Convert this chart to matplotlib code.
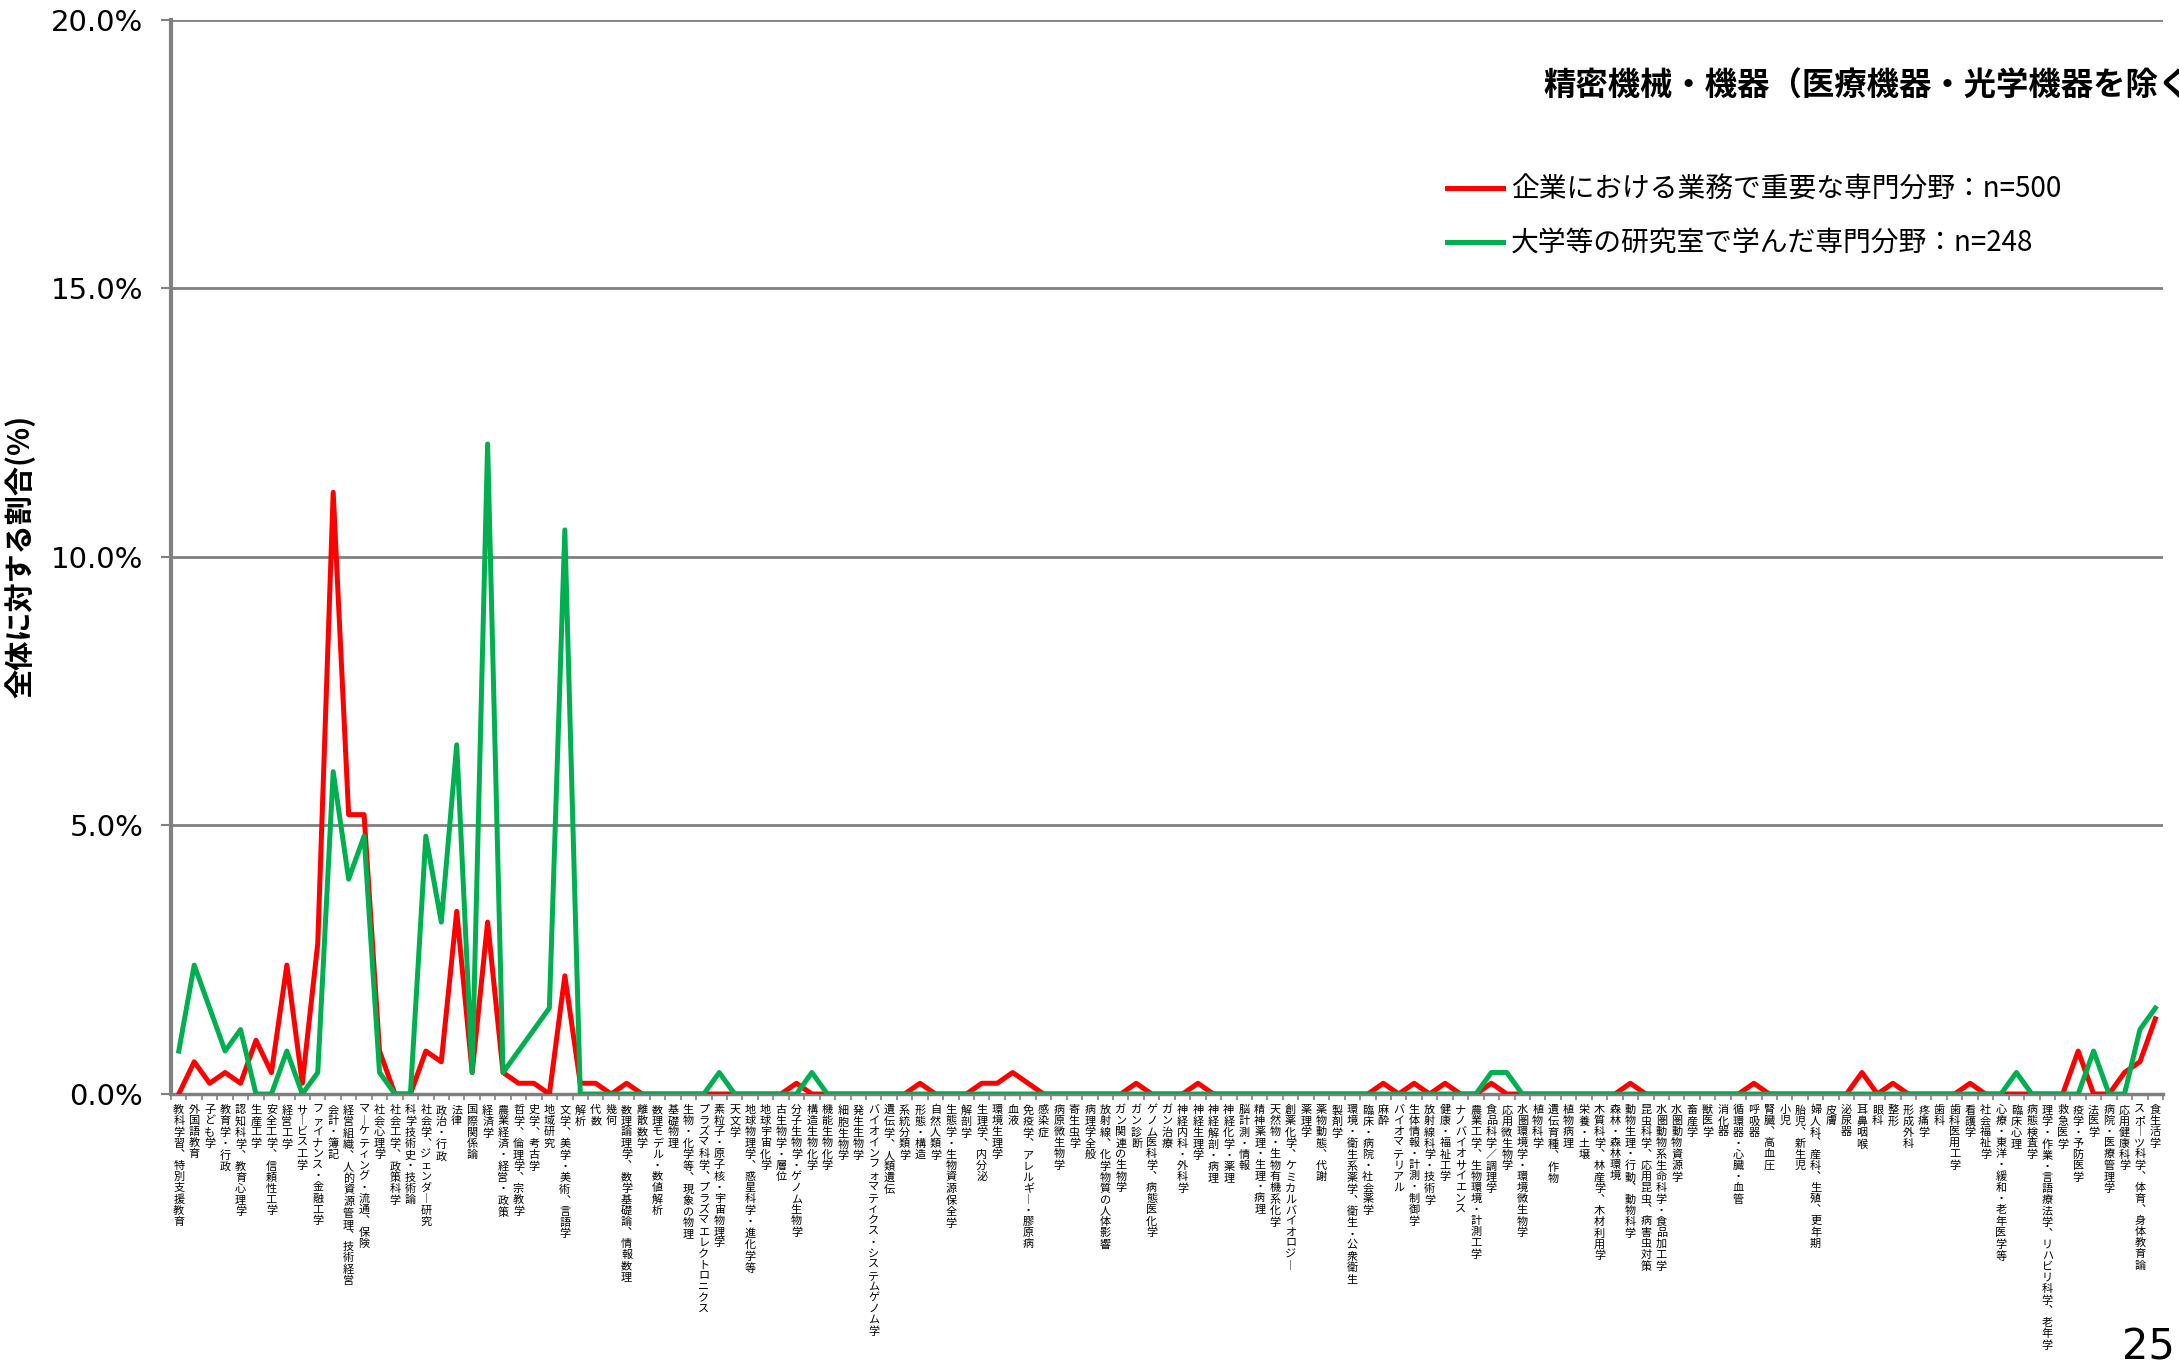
import matplotlib
matplotlib.use('Agg')
import matplotlib.pyplot as plt
import numpy as np

plt.rcParams['font.family'] = ['Noto Sans CJK JP', 'DejaVu Sans']

# categories (129 fields)
categories = [
    "教科学習、特別支援教育", "外国語教育", "子ども学", "教育学・行政", "認知科学、教育心理学",
    "生産工学", "安全工学、信頼性工学", "経営工学", "サービス工学", "ファイナンス・金融工学",
    "会計・簿記", "経営組織、人的資源管理、技術経営", "マーケティング・流通、保険", "社会心理学", "社会工学、政策科学",
    "科学技術史・技術論", "社会学、ジェンダー研究", "政治・行政", "法律", "国際関係論",
    "経済学", "農業経済・経営・政策", "哲学、倫理学、宗教学", "史学、考古学", "地域研究",
    "文学、美学・美術、言語学", "解析", "代数", "幾何", "数理論理学、数学基礎論、情報数理",
    "離散数学", "数理モデル・数値解析", "基礎物理", "生物・化学等、現象の物理", "プラズマ科学、プラズマエレクトロニクス",
    "素粒子・原子核・宇宙物理学", "天文学", "地球物理学、惑星科学・進化学等", "地球宇宙化学", "古生物学・層位",
    "分子生物学・ゲノム生物学", "構造生物化学", "機能生物化学", "細胞生物学", "発生生物学",
    "バイオインフォマティクス・システムゲノム学", "遺伝学、人類遺伝", "系統分類学", "形態・構造", "自然人類学",
    "生態学・生物資源保全学", "解剖学", "生理学、内分泌", "環境生理学", "血液",
    "免疫学、アレルギー・膠原病", "感染症", "病原微生物学", "寄生虫学", "病理学全般",
    "放射線、化学物質の人体影響", "ガン関連の生物学", "ガン診断", "ゲノム医科学、病態医化学", "ガン治療",
    "神経内科・外科学", "神経生理学", "神経解剖・病理", "神経化学・薬理", "脳計測・情報",
    "精神薬理・生理・病理", "天然物・生物有機系化学", "創薬化学、ケミカルバイオロジー", "薬理学", "薬物動態、代謝",
    "製剤学", "環境・衛生系薬学、衛生・公衆衛生", "臨床・病院・社会薬学", "麻酔", "バイオマテリアル",
    "生体情報・計測・制御学", "放射線科学・技術学", "健康・福祉工学", "ナノバイオサイエンス", "農業工学、生物環境・計測工学",
    "食品科学／調理学", "応用微生物学", "水圏環境学・環境微生物学", "植物科学", "遺伝育種、作物",
    "植物病理", "栄養・土壌", "木質科学、林産学、木材利用学", "森林・森林環境", "動物生理・行動、動物科学",
    "昆虫科学、応用昆虫、病害虫対策", "水圏動物系生命科学・食品加工学", "水圏動物資源学", "畜産学", "獣医学",
    "消化器", "循環器・心臓・血管", "呼吸器", "腎臓、高血圧", "小児",
    "胎児、新生児", "婦人科、産科、生殖、更年期", "皮膚", "泌尿器", "耳鼻咽喉",
    "眼科", "整形", "形成外科", "疼痛学", "歯科",
    "歯科医用工学", "看護学", "社会福祉学", "心療・東洋・緩和・老年医学等", "臨床心理",
    "病態検査学", "理学・作業・言語療法学、リハビリ科学、老年学", "救急医学", "疫学・予防医学", "法医学",
    "病院・医療管理学", "応用健康科学", "スポーツ科学、体育、身体教育論", "食生活学",
]

# share of all answers (%), red series: n=500
enterprise = [
    0.0, 0.6, 0.2, 0.4, 0.2, 1.0, 0.4, 2.4, 0.2, 2.8,
    11.2, 5.2, 5.2, 0.8, 0.0, 0.0, 0.8, 0.6, 3.4, 0.4,
    3.2, 0.4, 0.2, 0.2, 0.0, 2.2, 0.2, 0.2, 0.0, 0.2,
    0.0, 0.0, 0.0, 0.0, 0.0, 0.0, 0.0, 0.0, 0.0, 0.0,
    0.2, 0.0, 0.0, 0.0, 0.0, 0.0, 0.0, 0.0, 0.2, 0.0,
    0.0, 0.0, 0.2, 0.2, 0.4, 0.2, 0.0, 0.0, 0.0, 0.0,
    0.0, 0.0, 0.2, 0.0, 0.0, 0.0, 0.2, 0.0, 0.0, 0.0,
    0.0, 0.0, 0.0, 0.0, 0.0, 0.0, 0.0, 0.0, 0.2, 0.0,
    0.2, 0.0, 0.2, 0.0, 0.0, 0.2, 0.0, 0.0, 0.0, 0.0,
    0.0, 0.0, 0.0, 0.0, 0.2, 0.0, 0.0, 0.0, 0.0, 0.0,
    0.0, 0.0, 0.2, 0.0, 0.0, 0.0, 0.0, 0.0, 0.0, 0.4,
    0.0, 0.2, 0.0, 0.0, 0.0, 0.0, 0.2, 0.0, 0.0, 0.0,
    0.0, 0.0, 0.0, 0.8, 0.0, 0.0, 0.4, 0.6, 1.4,
]

# green series: n=248
university = [
    0.8, 2.4, 1.6, 0.8, 1.2, 0.0, 0.0, 0.8, 0.0, 0.4,
    6.0, 4.0, 4.8, 0.4, 0.0, 0.0, 4.8, 3.2, 6.5, 0.4,
    12.1, 0.4, 0.8, 1.2, 1.6, 10.5, 0.0, 0.0, 0.0, 0.0,
    0.0, 0.0, 0.0, 0.0, 0.0, 0.4, 0.0, 0.0, 0.0, 0.0,
    0.0, 0.4, 0.0, 0.0, 0.0, 0.0, 0.0, 0.0, 0.0, 0.0,
    0.0, 0.0, 0.0, 0.0, 0.0, 0.0, 0.0, 0.0, 0.0, 0.0,
    0.0, 0.0, 0.0, 0.0, 0.0, 0.0, 0.0, 0.0, 0.0, 0.0,
    0.0, 0.0, 0.0, 0.0, 0.0, 0.0, 0.0, 0.0, 0.0, 0.0,
    0.0, 0.0, 0.0, 0.0, 0.0, 0.4, 0.4, 0.0, 0.0, 0.0,
    0.0, 0.0, 0.0, 0.0, 0.0, 0.0, 0.0, 0.0, 0.0, 0.0,
    0.0, 0.0, 0.0, 0.0, 0.0, 0.0, 0.0, 0.0, 0.0, 0.0,
    0.0, 0.0, 0.0, 0.0, 0.0, 0.0, 0.0, 0.0, 0.0, 0.4,
    0.0, 0.0, 0.0, 0.0, 0.8, 0.0, 0.0, 1.2, 1.6,
]

yticks = [0, 5, 10, 15, 20]
title = "精密機械・機器（医療機器・光学機器を除く）"
label_red = "企業における業務で重要な専門分野：n=500"
label_green = "大学等の研究室で学んだ専門分野：n=248"
gray = '#808080'


# stack characters top to bottom to imitate vertical writing
def vertical(s):
    s = s.replace('ー', '︱').replace('、', '︑')
    return '\n'.join(s)


fig = plt.figure(figsize=(21.79, 13.67), dpi=100)
ax = fig.add_axes([0.0785, 0.1997, 0.9142, 0.786])

x = np.arange(len(categories))
ax.plot(x, enterprise, color='#FF0000', lw=3.6, label=label_red, zorder=3)
ax.plot(x, university, color='#00B050', lw=3.6, label=label_green, zorder=4)

ax.set_xlim(-0.5, len(categories) - 0.5)
ax.set_ylim(0, 20)
ax.set_yticks(yticks)
ax.set_yticklabels(['%.1f%%' % v for v in yticks], family='DejaVu Sans', fontsize=21)
ax.grid(axis='y', color=gray, lw=2)
ax.set_axisbelow(True)
for side in ['top', 'right']:
    ax.spines[side].set_visible(False)
ax.spines['left'].set_color(gray)
ax.spines['left'].set_linewidth(3)
ax.spines['bottom'].set_color(gray)
ax.spines['bottom'].set_linewidth(2.5)
ax.tick_params(axis='y', length=7, width=1.5, color=gray, pad=13)

ax.set_xticks(x)
ax.set_xticklabels([vertical(c) for c in categories], fontsize=8, linespacing=1.13,
                   va='top', ha='center')
ax.set_xticks(np.arange(len(categories) + 1) - 0.5, minor=True)
ax.tick_params(axis='x', which='major', length=0, pad=8)
ax.tick_params(axis='x', which='minor', length=4, width=1.2, color=gray)

ax.set_ylabel('全体に対する割合(%)', fontsize=21, fontweight='bold')
ax.yaxis.set_label_coords(-0.068, 0.5)

# the title runs past the right edge, as on the original slide
fig.text(1543 / 2179, 1 - 86 / 1367, title, fontsize=23.3, fontweight='bold', va='center', ha='left')

ax.legend(loc='upper left', bbox_to_anchor=(1422 / 2179, 1 - 150 / 1367), bbox_transform=fig.transFigure,
          frameon=False, fontsize=20, handlelength=2.0, handletextpad=0.3, labelspacing=0.85)

fig.text(2175 / 2179, 1 - 1348 / 1367, '25', fontsize=30, family='DejaVu Sans', ha='right', va='center')

fig.savefig('out.png', dpi=100)
